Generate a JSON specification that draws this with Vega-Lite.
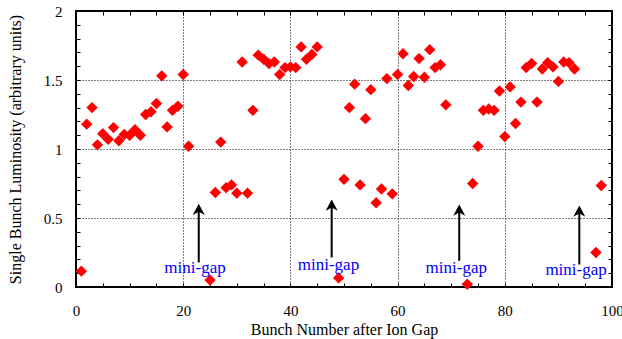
{
  "$schema": "https://vega.github.io/schema/vega-lite/v6.json",
  "width": 536,
  "height": 276,
  "autosize": {"type": "none"},
  "padding": {"left": 76, "top": 11, "right": 10, "bottom": 52},
  "background": "white",
  "config": {
    "view": {"stroke": "black", "strokeWidth": 2},
    "font": "Liberation Serif",
    "axis": {
      "labelFont": "Liberation Serif",
      "titleFont": "Liberation Serif",
      "labelColor": "black",
      "titleColor": "black",
      "labelFontSize": 15,
      "titleFontSize": 16,
      "titleFontWeight": "normal",
      "tickColor": "black",
      "domain": false,
      "labelFlush": false,
      "labelOverlap": false
    }
  },
  "datasets": {
    "lum": [
      {"bunch": 1, "lum": 0.115}, {"bunch": 2, "lum": 1.18}, {"bunch": 3, "lum": 1.30}, {"bunch": 4, "lum": 1.03},
      {"bunch": 5, "lum": 1.11}, {"bunch": 6, "lum": 1.07}, {"bunch": 7, "lum": 1.155}, {"bunch": 8, "lum": 1.06},
      {"bunch": 9, "lum": 1.105}, {"bunch": 10, "lum": 1.10}, {"bunch": 11, "lum": 1.14}, {"bunch": 12, "lum": 1.10},
      {"bunch": 13, "lum": 1.25}, {"bunch": 14, "lum": 1.27}, {"bunch": 15, "lum": 1.33}, {"bunch": 16, "lum": 1.53},
      {"bunch": 17, "lum": 1.16}, {"bunch": 18, "lum": 1.28}, {"bunch": 19, "lum": 1.31}, {"bunch": 20, "lum": 1.54},
      {"bunch": 21, "lum": 1.02}, {"bunch": 25, "lum": 0.05}, {"bunch": 26, "lum": 0.685}, {"bunch": 27, "lum": 1.05},
      {"bunch": 28, "lum": 0.72}, {"bunch": 29, "lum": 0.74}, {"bunch": 30, "lum": 0.68}, {"bunch": 31, "lum": 1.63},
      {"bunch": 32, "lum": 0.68}, {"bunch": 33, "lum": 1.28}, {"bunch": 34, "lum": 1.68}, {"bunch": 35, "lum": 1.65},
      {"bunch": 36, "lum": 1.62}, {"bunch": 37, "lum": 1.63}, {"bunch": 38, "lum": 1.54}, {"bunch": 39, "lum": 1.59},
      {"bunch": 40, "lum": 1.595}, {"bunch": 41, "lum": 1.59}, {"bunch": 42, "lum": 1.74}, {"bunch": 43, "lum": 1.65},
      {"bunch": 44, "lum": 1.685}, {"bunch": 45, "lum": 1.74}, {"bunch": 49, "lum": 0.066}, {"bunch": 50, "lum": 0.78},
      {"bunch": 51, "lum": 1.30}, {"bunch": 52, "lum": 1.47}, {"bunch": 53, "lum": 0.74}, {"bunch": 54, "lum": 1.22},
      {"bunch": 55, "lum": 1.43}, {"bunch": 56, "lum": 0.61}, {"bunch": 57, "lum": 0.71}, {"bunch": 58, "lum": 1.51},
      {"bunch": 59, "lum": 0.675}, {"bunch": 60, "lum": 1.54}, {"bunch": 61, "lum": 1.69}, {"bunch": 62, "lum": 1.46},
      {"bunch": 63, "lum": 1.525}, {"bunch": 64, "lum": 1.655}, {"bunch": 65, "lum": 1.52}, {"bunch": 66, "lum": 1.72},
      {"bunch": 67, "lum": 1.59}, {"bunch": 68, "lum": 1.61}, {"bunch": 69, "lum": 1.32}, {"bunch": 73, "lum": 0.02},
      {"bunch": 74, "lum": 0.75}, {"bunch": 75, "lum": 1.02}, {"bunch": 76, "lum": 1.28}, {"bunch": 77, "lum": 1.29},
      {"bunch": 78, "lum": 1.28}, {"bunch": 79, "lum": 1.42}, {"bunch": 80, "lum": 1.09}, {"bunch": 81, "lum": 1.45},
      {"bunch": 82, "lum": 1.185}, {"bunch": 83, "lum": 1.34}, {"bunch": 84, "lum": 1.59}, {"bunch": 85, "lum": 1.62},
      {"bunch": 86, "lum": 1.34}, {"bunch": 87, "lum": 1.58}, {"bunch": 88, "lum": 1.625}, {"bunch": 89, "lum": 1.595},
      {"bunch": 90, "lum": 1.49}, {"bunch": 91, "lum": 1.63}, {"bunch": 92, "lum": 1.625}, {"bunch": 93, "lum": 1.58},
      {"bunch": 97, "lum": 0.25}, {"bunch": 98, "lum": 0.735}
    ],
    "gaps": [
      {"label": "mini-gap", "arrow_x": 22.9, "arrow_bottom": 0.178, "shaft_top": 0.56, "arrow_top": 0.603, "label_x": 22.2, "label_y": 0.10},
      {"label": "mini-gap", "arrow_x": 47.7, "arrow_bottom": 0.214, "shaft_top": 0.59, "arrow_top": 0.634, "label_x": 47.1, "label_y": 0.122},
      {"label": "mini-gap", "arrow_x": 71.5, "arrow_bottom": 0.19, "shaft_top": 0.555, "arrow_top": 0.598, "label_x": 70.95, "label_y": 0.105},
      {"label": "mini-gap", "arrow_x": 93.9, "arrow_bottom": 0.163, "shaft_top": 0.55, "arrow_top": 0.59, "label_x": 93.3, "label_y": 0.09}
    ]
  },
  "layer": [
    {
      "data": {"name": "lum"},
      "mark": {"type": "point", "shape": "diamond", "filled": true, "color": "#ff0000", "opacity": 1, "size": 130},
      "encoding": {
        "x": {
          "field": "bunch", "type": "quantitative",
          "scale": {"domain": [0, 100], "nice": false, "zero": false},
          "axis": {
            "orient": "bottom",
            "values": [0,5,10,15,20,25,30,35,40,45,50,55,60,65,70,75,80,85,90,95,100],
            "labelExpr": "datum.value % 20 === 0 ? datum.label : ''",
            "grid": true, "gridColor": "black", "gridDash": [1, 2], "gridWidth": 1,
            "gridOpacity": {"condition": {"test": "datum.value % 20 === 0 && datum.value > 0 && datum.value < 100", "value": 1}, "value": 0},
            "tickSize": -4, "tickWidth": 1,
            "labelPadding": 20,
            "title": "Bunch Number after Ion Gap",
            "titlePadding": 3
          }
        },
        "y": {
          "field": "lum", "type": "quantitative",
          "scale": {"domain": [0, 2], "nice": false},
          "axis": {
            "orient": "left",
            "values": [0,0.1,0.2,0.3,0.4,0.5,0.6,0.7,0.8,0.9,1,1.1,1.2,1.3,1.4,1.5,1.6,1.7,1.8,1.9,2],
            "format": "~g",
            "labelExpr": "(datum.value * 10) % 5 === 0 ? datum.label : ''",
            "grid": true, "gridColor": "black", "gridDash": [1, 2], "gridWidth": 1,
            "gridOpacity": {"condition": {"test": "(datum.value * 10) % 5 === 0 && datum.value > 0 && datum.value < 2", "value": 1}, "value": 0},
            "tickSize": -4, "tickWidth": 1,
            "labelPadding": 18,
            "title": "Single Bunch Luminosity (arbitrary units)",
            "titlePadding": 20
          }
        }
      }
    },
    {
      "data": {"name": "gaps"},
      "mark": {"type": "rule", "color": "black", "strokeWidth": 2},
      "encoding": {
        "x": {
          "field": "arrow_x", "type": "quantitative",
          "axis": {
            "orient": "top",
            "values": [0,5,10,15,20,25,30,35,40,45,50,55,60,65,70,75,80,85,90,95,100],
            "labels": false, "grid": false, "tickSize": -4, "tickWidth": 1, "title": null
          }
        },
        "y": {
          "field": "arrow_bottom", "type": "quantitative",
          "axis": {
            "orient": "right",
            "values": [0,0.1,0.2,0.3,0.4,0.5,0.6,0.7,0.8,0.9,1,1.1,1.2,1.3,1.4,1.5,1.6,1.7,1.8,1.9,2],
            "labels": false, "grid": false, "tickSize": -4, "tickWidth": 1, "title": null
          }
        },
        "y2": {"field": "shaft_top"}
      }
    },
    {
      "data": {"name": "gaps"},
      "mark": {"type": "point", "shape": "M0,0L0.75,1.4L0,1.0L-0.75,1.4Z", "filled": true, "color": "black", "opacity": 1, "size": 256},
      "encoding": {
        "x": {"field": "arrow_x", "type": "quantitative", "axis": null},
        "y": {"field": "arrow_top", "type": "quantitative", "axis": null}
      }
    },
    {
      "data": {"name": "gaps"},
      "mark": {"type": "text", "font": "Liberation Serif", "fontSize": 17, "color": "#0000ff", "align": "center", "baseline": "alphabetic"},
      "encoding": {
        "x": {"field": "label_x", "type": "quantitative", "axis": null},
        "y": {"field": "label_y", "type": "quantitative", "axis": null},
        "text": {"field": "label"}
      }
    }
  ],
  "resolve": {"axis": {"x": "independent", "y": "independent"}}
}
